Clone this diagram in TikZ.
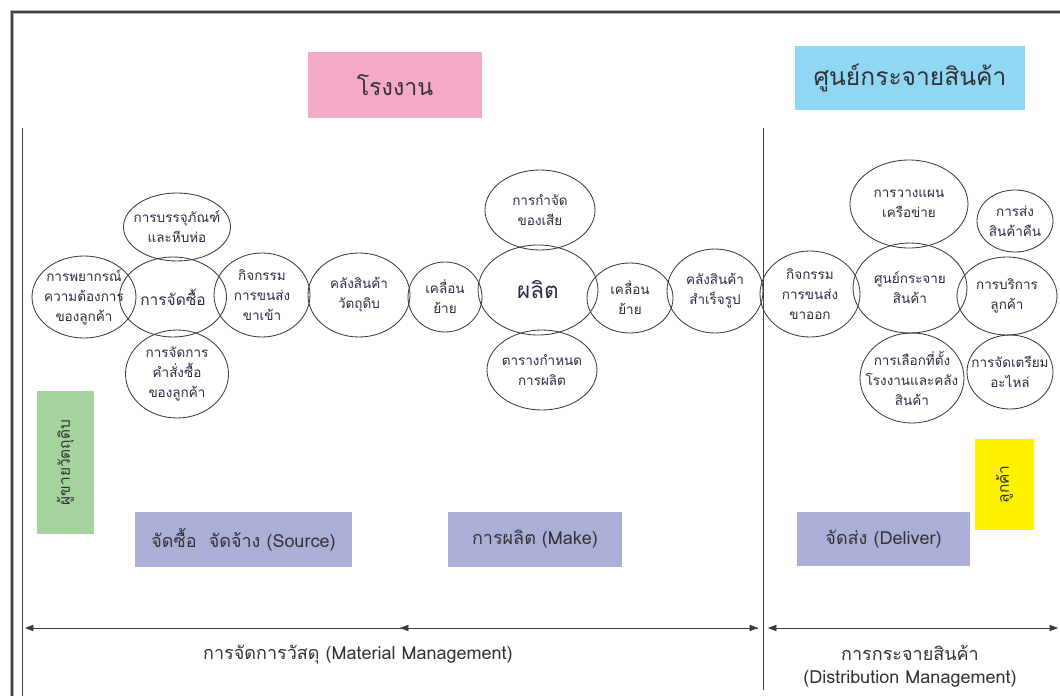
\documentclass[tikz,border=0pt]{standalone}
\usepackage{fontspec}
\setmainfont[Script=Thai]{Loma}
\usetikzlibrary{shapes.geometric,arrows.meta}

\definecolor{linegray}{HTML}{3C3C3C}
\definecolor{inkblue}{HTML}{2B2B45}
\definecolor{factorypink}{HTML}{F4A9C9}
\definecolor{centerblue}{HTML}{8FD7F5}
\definecolor{steplilac}{HTML}{ABAED6}
\definecolor{suppliergreen}{HTML}{A2D49B}
\definecolor{customeryellow}{HTML}{FFF200}

\tikzset{
  px/.style 2 args={minimum width=#1*0.025cm, minimum height=#2*0.025cm},
  bubble/.style={ellipse, draw=linegray, line width=0.6pt, inner sep=0pt},
  smalltxt/.style={align=center, text=inkblue, font=\fontsize{9.6}{14.2}\selectfont},
  bigtxt/.style={align=center, text=inkblue, font=\fontsize{11}{14}\selectfont},
  band/.style={rectangle, inner sep=0pt, text=black!80, font=\fontsize{12.8}{15}\selectfont},
  title/.style={rectangle, inner sep=0pt, text=black!80, font=\fontsize{16.5}{18}\selectfont},
}

\begin{document}
\begin{tikzpicture}[x=0.025cm, y=-0.025cm, >={Triangle[length=6pt,width=4.5pt]}]
    \useasboundingbox (0,0) rectangle (1060,696);

    % frame
    \draw[line width=2.6pt, gray!60] (12,696) -- (12,12) -- (1060,12);
    \draw[line width=1.4pt, black!75] (12,696) -- (12,12) -- (1060,12);
    \draw[linegray, line width=0.6pt] (22,128) -- (22,696);
    \draw[linegray, line width=0.6pt] (763,128) -- (763,690);

    % headings
    \node[title, fill=factorypink, px={174}{66}] (factory) at (395,85) {โรงงาน};
    \node[title, fill=centerblue, px={230}{64}, font=\fontsize{17.5}{19}\selectfont] (dcenter) at (910,78) {ศูนย์กระจายสินค้า};

    % source side
    \node[bubble, px={104}{82}, label={[smalltxt]center:การพยากรณ์\\ความต้องการ\\ของลูกค้า}] (forecast) at (84,297) {};
    \node[bubble, px={107}{68}, label={[smalltxt]center:การบรรจุภัณฑ์\\และหีบห่อ}] (packing) at (177,227) {};
    \node[bubble, px={103}{88}, label={[smalltxt]center:การจัดการ\\คำสั่งซื้อ\\ของลูกค้า}] (orders) at (177,374) {};
    \node[bubble, px={107}{80}, label={[bigtxt]center:การจัดซื้อ}] (purchase) at (173,297) {};
    \node[bubble, px={96}{84}, label={[smalltxt]center:กิจกรรม\\การขนส่ง\\ขาเข้า}] (inbound) at (262,295) {};
    \node[bubble, px={102}{84}, label={[smalltxt]center:คลังสินค้า\\วัตถุดิบ}] (rawstore) at (359,295) {};
    \node[bubble, px={74}{70}, label={[smalltxt]center:เคลื่อน\\ย้าย}] (movein) at (445,297) {};

    % make
    \node[bubble, px={110}{80}, label={[smalltxt]center:การกำจัด\\ของเสีย}] (waste) at (540,210) {};
    \node[bubble, px={110}{80}, label={[smalltxt]center:ตารางกำหนด\\การผลิต}] (schedule) at (542,370) {};
    \node[bubble, px={120}{90}, label={[bigtxt, font=\fontsize{16}{18}\selectfont]center:ผลิต}] (produce) at (538,290) {};
    \node[bubble, px={86}{70}, label={[smalltxt]center:เคลื่อน\\ย้าย}] (moveout) at (630,298) {};
    \node[bubble, px={96}{84}, label={[smalltxt]center:คลังสินค้า\\สำเร็จรูป}] (goodstore) at (715,291) {};

    % deliver
    \node[bubble, px={100}{86}, label={[smalltxt]center:กิจกรรม\\การขนส่ง\\ขาออก}] (outbound) at (810,294) {};
    \node[bubble, px={118}{88}, label={[smalltxt]center:การวางแผน\\เครือข่าย}] (network) at (909,204) {};
    \node[bubble, px={104}{90}, label={[smalltxt]center:การเลือกที่ตั้ง\\โรงงานและคลัง\\สินค้า}] (siting) at (912,378) {};
    \node[bubble, px={114}{90}, label={[smalltxt]center:ศูนย์กระจาย\\สินค้า}] (dc) at (910,288) {};
    \node[bubble, px={76}{62}, label={[smalltxt]center:การส่ง\\สินค้าคืน}] (returns) at (1015,221) {};
    \node[bubble, px={86}{74}, label={[smalltxt]center:การจัดเตรียม\\อะไหล่}] (parts) at (1010,372) {};
    \node[bubble, px={100}{78}, label={[smalltxt]center:การบริการ\\ลูกค้า}] (service) at (1007,296) {};

    % side boxes
    \node[band, fill=suppliergreen, px={143}{57}, rotate=90, font=\fontsize{11}{13}\selectfont] (supplier) at (65.5,462.5) {ผู้ขายวัตถุดิบ};
    \node[band, fill=customeryellow, px={91}{59}, rotate=90, font=\fontsize{11}{13}\selectfont] (customer) at (1004.5,484.5) {ลูกค้า};

    % process steps
    \node[band, fill=steplilac, px={217}{55}] (source) at (243.5,539.5) {จัดซื้อ\ \ จัดจ้าง (Source)};
    \node[band, fill=steplilac, px={174}{55}] (make) at (535,539.5) {การผลิต (Make)};
    \node[band, fill=steplilac, px={173}{54}] (deliver) at (883.5,539) {จัดส่ง (Deliver)};

    % management spans
    \coordinate (matL) at (25,628);
    \coordinate (matM) at (400,628);
    \coordinate (matR) at (758,628);
    \coordinate (disL) at (768,628);
    \coordinate (disR) at (1058,628);
    \draw[<->, linegray, line width=0.6pt] (matL) -- (matR);
    \draw[<-, linegray, line width=0.6pt] (matM) -- (matR);
    \draw[<->, linegray, line width=0.6pt] (disL) -- (disR);

    \node[band, align=center] (matlabel) at (358,655) {การจัดการวัสดุ (Material Management)};
    \node[band, align=center, font=\fontsize{12.8}{16.5}\selectfont] (dislabel) at (910,666) {การกระจายสินค้า\\(Distribution Management)};
\end{tikzpicture}
\end{document}
